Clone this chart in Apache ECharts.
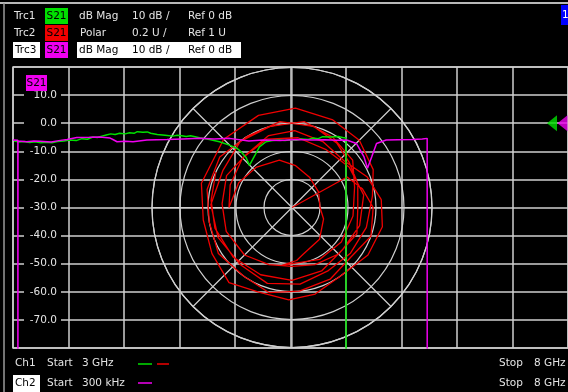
<!DOCTYPE html>
<html>
<head>
<meta charset="utf-8">
<script src="https://cdn.jsdelivr.net/npm/echarts@6/dist/echarts.min.js"></script>
<style>
  html, body { margin: 0; padding: 0; background: #000; }
  #chart { width: 568px; height: 392px; }
</style>
</head>
<body>
<div id="chart"></div>
<script>
// Channel 1 sweep (3 GHz .. 8 GHz): Trc1, S21 dB Mag
const ch1Freq = [3.01, 3.06, 3.10, 3.15, 3.20, 3.25, 3.30, 3.35, 3.40, 3.46, 3.51, 3.57, 3.62, 3.67, 3.72, 3.76, 3.80, 3.84, 3.88, 3.92, 3.96, 4.01, 4.05, 4.09, 4.12, 4.17, 4.21, 4.24, 4.30, 4.37, 4.44, 4.48, 4.52, 4.56, 4.60, 4.68, 4.77, 4.86, 4.95, 5.02, 5.06, 5.10, 5.13, 5.18, 5.22, 5.28, 5.34, 5.40, 5.45, 5.50, 5.55, 5.60, 5.66, 5.70, 5.75, 5.79, 5.86, 5.93, 5.97, 6.00, 6.001];
const trc1Mag = [-6.3, -6.7, -6.5, -6.9, -6.6, -7.0, -6.8, -7.0, -6.5, -6.3, -6.0, -6.2, -5.5, -5.7, -4.9, -5.1, -4.6, -4.2, -3.8, -4.0, -3.6, -3.8, -3.4, -3.6, -3.0, -3.2, -3.1, -3.6, -4.0, -4.3, -4.6, -4.3, -4.5, -4.7, -4.5, -5.2, -5.8, -6.6, -7.8, -9.0, -10.4, -12.2, -15.0, -11.4, -8.4, -6.6, -6.2, -6.0, -6.2, -5.9, -6.1, -5.6, -5.8, -5.3, -5.5, -4.8, -4.9, -4.7, -5.1, -5.3, -120];

// Channel 2 sweep (300 kHz .. 8 GHz): Trc3, S21 dB Mag
const ch2Freq = [0.0003, 0.07, 0.071, 0.072, 0.20, 0.30, 0.39, 0.55, 0.66, 0.78, 0.92, 1.10, 1.25, 1.40, 1.44, 1.50, 1.62, 1.73, 1.93, 2.22, 2.45, 2.69, 2.90, 3.12, 3.40, 3.60, 3.85, 4.09, 4.30, 4.50, 4.66, 4.81, 4.95, 5.06, 5.11, 5.17, 5.24, 5.38, 5.55, 5.76, 5.90, 5.97, 5.971];
const trc3Mag = [-6.0, -6.1, -120, -6.3, -6.6, -6.3, -6.4, -6.7, -6.2, -5.8, -5.1, -5.0, -4.9, -5.3, -5.8, -6.6, -6.4, -6.6, -6.0, -5.8, -5.6, -5.4, -5.6, -5.4, -6.3, -6.0, -6.2, -5.8, -6.0, -5.9, -6.1, -6.0, -7.2, -12.0, -16.0, -12.0, -7.2, -6.0, -5.9, -5.8, -5.6, -5.4, -120];

// Trc2, S21 Polar: magnitude (U) and phase (deg, counter-clockwise from the +real axis)
const trc2Mag = [0.00, 0.45, 0.52, 0.58, 0.60, 0.55, 0.58, 0.60, 0.63, 0.60, 0.62, 0.60, 0.62, 0.63, 0.60, 0.62, 0.60, 0.56, 0.52,
  0.50, 0.47, 0.50, 0.47, 0.44, 0.42, 0.44, 0.48, 0.50, 0.50, 0.52, 0.50, 0.54, 0.55, 0.52, 0.50,
  0.58, 0.64, 0.66, 0.64, 0.60, 0.64, 0.66, 0.65, 0.70, 0.66, 0.64, 0.67, 0.69, 0.70, 0.71, 0.69, 0.68, 0.64,
  0.58, 0.55, 0.53, 0.52, 0.55, 0.57, 0.55, 0.57, 0.58, 0.56, 0.60, 0.60, 0.62, 0.58, 0.55,
  0.47, 0.44, 0.43, 0.42, 0.42, 0.38, 0.345, 0.30, 0.24, 0.20, 0.22, 0.25, 0.30, 0.35, 0.385, 0.42, 0.45,
  0.47, 0.50, 0.52, 0.50, 0.48, 0.50, 0.52, 0.50, 0.47, 0.50, 0.52, 0.53, 0.55, 0.57, 0.58, 0.60];
const trc2Phase = [331, 331, 345, 0, 20, 40, 62, 85, 105, 125, 148, 170, 192, 215, 238, 262, 285, 305, 322,
  340, 0, 22, 45, 68, 90, 112, 135, 160, 183, 206, 228, 252, 272, 295, 318,
  338, 355, 12, 32, 55, 75, 92, 112, 130, 150, 172, 195, 225, 250, 272, 295, 315, 335,
  352, 15, 38, 60, 84, 108, 132, 158, 182, 208, 232, 255, 278, 300, 322,
  342, 8, 35, 62, 100, 85, 77, 49, 20, 0, 330, 300, 275, 255, 228, 205, 180,
  200, 225, 250, 275, 300, 325, 350, 15, 40, 65, 90, 115, 140, 165, 185, 205];

// Reference level markers (0 dB) at the right edge
const refLevel = 0;
const ch1RefFreq = 7.856;
const ch2RefFreq = 7.921;

const yMin = -80, yMax = 20, yStep = 10;

const GRID = '#cfcfcf';
const TXT = '#e4e4e4';
const FONT = 'DejaVu Sans';
const FS = 10.5;

const zip = (a, b) => a.map((v, i) => [v, b[i]]);

function txt(x, y, s, color, align) {
  return { type: 'text', x: x, y: y, z: 20, style: { text: s, fill: color || TXT, font: FS + 'px ' + FONT, textAlign: align || 'left', textVerticalAlign: 'middle' } };
}
function box(x, y, w, h, color) {
  return { type: 'rect', z: 19, shape: { x: x, y: y, width: w, height: h }, style: { fill: color } };
}
function dash(x1, x2, y, color) {
  return { type: 'line', z: 20, shape: { x1: x1, y1: y, x2: x2, y2: y }, style: { stroke: color, lineWidth: 1.5 } };
}

const chart = echarts.init(document.getElementById('chart'), null, { renderer: 'canvas' });

chart.setOption({
  backgroundColor: '#000',
  animation: false,
  grid: { left: 13, top: 67, width: 556, height: 281, show: true, borderColor: '#bdbdbd', borderWidth: 1.5, backgroundColor: '#000' },
  xAxis: [
    { type: 'value', min: 3, max: 8, interval: 0.5, axisLine: { show: false }, axisTick: { show: false }, axisLabel: { show: false },
      splitLine: { show: true, lineStyle: { color: GRID, width: 1.5 } } },
    { type: 'value', min: 0.0003, max: 8, show: false }
  ],
  yAxis: {
    type: 'value', min: yMin, max: yMax, interval: yStep,
    axisLine: { show: false }, axisTick: { show: false },
    splitLine: { show: true, lineStyle: { color: GRID, width: 1.5 } },
    axisLabel: {
      inside: true, margin: 48, align: 'right', verticalAlign: 'middle',
      showMinLabel: false, showMaxLabel: false,
      color: TXT, fontFamily: FONT, fontSize: FS,
      backgroundColor: '#000', width: 33, padding: [1, 4, 1, 0],
      formatter: v => v.toFixed(1)
    }
  },
  polar: { center: [292, 207.5], radius: 140 },
  angleAxis: {
    type: 'value', min: 0, max: 360, interval: 45, startAngle: 0, clockwise: true,
    axisLine: { show: true, lineStyle: { color: GRID, width: 1.2 } },
    axisTick: { show: false }, axisLabel: { show: false },
    splitLine: { show: true, lineStyle: { color: GRID, width: 1.2 } }
  },
  radiusAxis: {
    type: 'value', min: 0, max: 1, interval: 0.2,
    axisLine: { show: false }, axisTick: { show: false }, axisLabel: { show: false },
    splitLine: { show: true, lineStyle: { color: GRID, width: 1.2 } }
  },
  series: [
    { name: 'Trc2', type: 'line', coordinateSystem: 'polar', data: zip(trc2Mag, trc2Phase),
      showSymbol: false, lineStyle: { color: '#f00000', width: 1.3 }, z: 3 },
    { name: 'Trc1', type: 'line', xAxisIndex: 0, data: zip(ch1Freq, trc1Mag),
      showSymbol: false, lineStyle: { color: '#00e000', width: 1.5 }, z: 4 },
    { name: 'Trc3', type: 'line', xAxisIndex: 1, data: zip(ch2Freq, trc3Mag),
      showSymbol: false, lineStyle: { color: '#f000f0', width: 1.5 }, z: 5 },
    { name: 'Ref1', type: 'scatter', xAxisIndex: 0, data: [[ch1RefFreq, refLevel]],
      symbol: 'triangle', symbolRotate: 90, symbolSize: [16, 10], itemStyle: { color: '#00e000' }, z: 6 },
    { name: 'Ref3', type: 'scatter', xAxisIndex: 1, data: [[ch2RefFreq, refLevel]],
      symbol: 'triangle', symbolRotate: 90, symbolSize: [16, 10], itemStyle: { color: '#f000f0' }, z: 6 }
  ],
  graphic: [
    // screen frame
    { type: 'line', z: 18, shape: { x1: 0, y1: 3, x2: 568, y2: 3 }, style: { stroke: '#b8b8b8', lineWidth: 2 } },
    { type: 'line', z: 18, shape: { x1: 4, y1: 3, x2: 4, y2: 392 }, style: { stroke: '#9a9a9a', lineWidth: 1.5 } },
    // channel indicator
    box(561, 5, 10, 20, '#0000ff'),
    txt(562, 15, '1', '#ffffff'),
    // trace list
    txt(14, 16, 'Trc1'),
    box(45, 8, 23, 16, '#00e000'),
    txt(56.5, 16, 'S21', '#000', 'center'),
    txt(79, 16, 'dB Mag'),
    txt(132, 16, '10 dB /'),
    txt(188, 16, 'Ref 0 dB'),

    txt(14, 33, 'Trc2'),
    box(45, 25, 23, 16, '#f00000'),
    txt(56.5, 33, 'S21', '#000', 'center'),
    txt(80, 33, 'Polar'),
    txt(132, 33, '0.2 U /'),
    txt(188, 33, 'Ref 1 U'),

    box(13, 42, 27, 16, '#ffffff'),
    txt(15, 50, 'Trc3', '#000'),
    box(45, 42, 23, 16, '#f000f0'),
    txt(56.5, 50, 'S21', '#000', 'center'),
    box(77, 42, 164, 16, '#ffffff'),
    txt(79, 50, 'dB Mag', '#000'),
    txt(132, 50, '10 dB /', '#000'),
    txt(188, 50, 'Ref 0 dB', '#000'),

    // trace label inside the diagram
    box(26, 75, 21, 16, '#f000f0'),
    txt(36.5, 83, 'S21', '#000', 'center'),

    // channel footer
    txt(15, 363, 'Ch1'),
    txt(47, 363, 'Start'),
    txt(82, 363, '3 GHz'),
    dash(138, 152, 364, '#00e000'),
    dash(157, 169, 364, '#f00000'),
    txt(499, 363, 'Stop'),
    txt(534, 363, '8 GHz'),

    box(13, 375, 27, 17, '#ffffff'),
    txt(15, 383, 'Ch2', '#000'),
    txt(47, 383, 'Start'),
    txt(82, 383, '300 kHz'),
    dash(138, 152, 383, '#f000f0'),
    txt(499, 383, 'Stop'),
    txt(534, 383, '8 GHz')
  ]
});
</script>
</body>
</html>
